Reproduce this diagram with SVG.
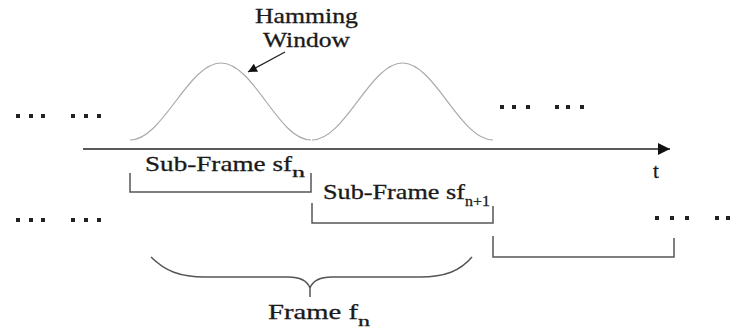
<svg xmlns="http://www.w3.org/2000/svg" width="738" height="329" viewBox="0 0 738 329">
<defs>
<style>
.t{font-family:"Liberation Serif","Times New Roman",serif;fill:#1a1a1a;stroke:#1a1a1a;stroke-width:0.3;font-size:21px}
.s{font-family:"Liberation Serif","Times New Roman",serif;fill:#1a1a1a;stroke:#1a1a1a;stroke-width:0.3;font-size:15px}
.w{fill:none;stroke:#aaa;stroke-width:1.2}
.br{fill:none;stroke:#555;stroke-width:1.5}
.dot{fill:#222}
</style>
<marker id="ah" viewBox="0 0 10 10" refX="10" refY="5" markerWidth="18" markerHeight="12" markerUnits="userSpaceOnUse" orient="auto">
<path d="M0,0 L10,5 L0,10 z" fill="#111"/>
</marker>
<marker id="ah2" viewBox="0 0 10 10" refX="10" refY="5" markerWidth="14" markerHeight="9" markerUnits="userSpaceOnUse" orient="auto">
<path d="M0,0 L10,5 L0,10 z" fill="#111"/>
</marker>
</defs>
<rect width="738" height="329" fill="#fff"/>

<g id="hamming-windows">
<path class="w" d="M130,140 C163,140 188,63 221,63 C254,63 278,140 311,140"/>
<path class="w" d="M312,140 C345,140 370,63 402.5,63 C435,63 460,140 493,140"/>
</g>

<g id="hamming-label">
<text class="t" x="255" y="23" textLength="103" lengthAdjust="spacingAndGlyphs">Hamming</text>
<text class="t" x="263" y="47" textLength="87" lengthAdjust="spacingAndGlyphs">Window</text>
</g>

<g id="dots-left-top" class="dot">
<rect x="16" y="114" width="4" height="4"/><rect x="29" y="114" width="4" height="4"/><rect x="41" y="114" width="4" height="4"/>
<rect x="71" y="114" width="4" height="4"/><rect x="84" y="114" width="4" height="4"/><rect x="97" y="114" width="4" height="4"/>
</g>
<g id="dots-right-top" class="dot">
<rect x="500" y="105" width="4" height="4"/><rect x="512" y="105" width="4" height="4"/><rect x="526" y="105" width="4" height="4"/>
<rect x="555" y="105" width="4" height="4"/><rect x="566" y="105" width="4" height="4"/><rect x="580" y="105" width="4" height="4"/>
</g>
<g id="dots-left-bottom" class="dot">
<rect x="16" y="218" width="4" height="4"/><rect x="29" y="218" width="4" height="4"/><rect x="41" y="218" width="4" height="4"/>
<rect x="71" y="218" width="4" height="4"/><rect x="84" y="218" width="4" height="4"/><rect x="97" y="218" width="4" height="4"/>
</g>
<g id="dots-right-bottom" class="dot">
<rect x="655" y="216" width="4" height="4"/><rect x="670" y="216" width="4" height="4"/><rect x="685" y="216" width="4" height="4"/>
<rect x="715" y="216" width="4" height="4"/><rect x="726" y="216" width="4" height="4"/>
</g>

<g id="time-label">
<text class="t" x="653" y="178">t</text>
</g>

<g id="subframe-n">
<path class="br" d="M130,173 V192 H311 V173"/>
<text class="t" x="145" y="171" textLength="147" lengthAdjust="spacingAndGlyphs">Sub-Frame sf</text>
<text class="s" x="292" y="177" textLength="13" lengthAdjust="spacingAndGlyphs">n</text>
</g>

<g id="subframe-n1">
<path class="br" d="M312,203 V223 H493 V206"/>
<text class="t" x="323" y="199" textLength="142" lengthAdjust="spacingAndGlyphs">Sub-Frame sf</text>
<text class="s" x="465" y="206" textLength="25" lengthAdjust="spacingAndGlyphs">n+1</text>
</g>

<g id="subframe-n2">
<path class="br" d="M493,236 V257 H674 V238"/>
</g>

<g id="frame-n">
<path class="br" stroke-width="1.3" d="M151,257 C165,271 180,277 205,277 L288,277 C300,277 307,280 310,288 L310,297 M310,288 C313,280 320,277 332,277 L420,277 C445,277 460,271 472,257"/>
<text class="t" x="268" y="319" textLength="90" lengthAdjust="spacingAndGlyphs">Frame f</text>
<text class="s" x="358" y="326" textLength="12" lengthAdjust="spacingAndGlyphs">n</text>
</g>

<g id="connectors" fill="none" stroke="#222">
<line x1="83" y1="149" x2="670" y2="149" stroke-width="1.6" marker-end="url(#ah)"/>
<line x1="285" y1="52" x2="248" y2="72" stroke-width="1.3" marker-end="url(#ah2)"/>
</g>
</svg>
